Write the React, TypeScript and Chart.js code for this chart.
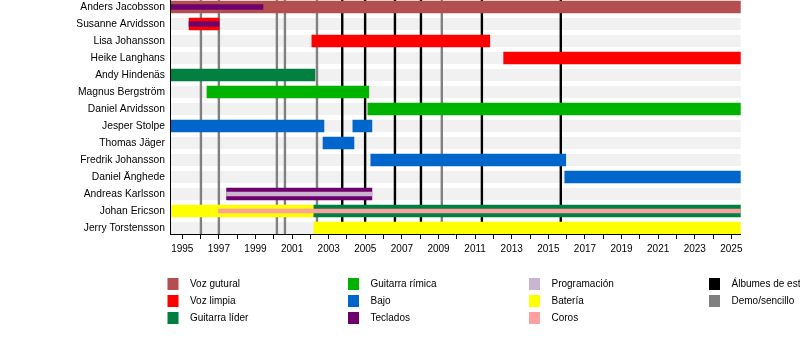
import React, { useEffect, useRef } from 'react';
import { Chart, registerables } from 'chart.js';

Chart.register(...registerables);

// ---------- data ----------
const members: string[] = [
  'Anders Jacobsson',
  'Susanne Arvidsson',
  'Lisa Johansson',
  'Heike Langhans',
  'Andy Hindenäs',
  'Magnus Bergström',
  'Daniel Arvidsson',
  'Jesper Stolpe',
  'Thomas Jäger',
  'Fredrik Johansson',
  'Daniel Änghede',
  'Andreas Karlsson',
  'Johan Ericson',
  'Jerry Torstensson',
];

const START = 1994.33;
const END = 2025.51;

type Span = [string, number, number];

const vozGutural: Span[] = [['Anders Jacobsson', START, END]];
const vozLimpia: Span[] = [
  ['Susanne Arvidsson', 1995.37, 1997.01],
  ['Lisa Johansson', 2002.08, 2011.8],
  ['Heike Langhans', 2012.56, END],
];
const guitarraLider: Span[] = [
  ['Andy Hindenäs', START, 2002.25],
  ['Johan Ericson', 2002.19, END],
];
const guitarraRitmica: Span[] = [
  ['Magnus Bergström', 1996.35, 2005.19],
  ['Daniel Arvidsson', 2005.14, END],
];
const bajo: Span[] = [
  ['Jesper Stolpe', START, 2002.74],
  ['Jesper Stolpe', 2004.32, 2005.36],
  ['Thomas Jäger', 2002.69, 2004.38],
  ['Fredrik Johansson', 2005.3, 2015.95],
  ['Daniel Änghede', 2015.9, END],
];
const teclados: Span[] = [['Andreas Karlsson', 1997.42, 2005.36]];
const tecladosSecundarios: Span[] = [
  ['Anders Jacobsson', START, 1999.41],
  ['Susanne Arvidsson', 1995.37, 1997.01],
];
const programacion: Span[] = [['Andreas Karlsson', 1997.42, 2005.36]];
const bateria: Span[] = [
  ['Johan Ericson', START, 2002.19],
  ['Jerry Torstensson', 2002.19, END],
];
const coros: Span[] = [['Johan Ericson', 1996.97, END]];

const albumes: number[] = [2003.74, 2004.99, 2006.62, 2008.04, 2011.37, 2015.68];
const demos: number[] = [1996.02, 1997.0, 2000.17, 2000.61, 2002.36, 2009.18];

const yearTicks: number[] = [
  1995, 1996, 1997, 1998, 1999, 2000, 2001, 2002, 2003, 2004, 2005, 2006, 2007,
  2008, 2009, 2010, 2011, 2012, 2013, 2014, 2015, 2016, 2017, 2018, 2019, 2020,
  2021, 2022, 2023, 2024, 2025,
];

const legendLabels: string[] = [
  'Voz gutural', 'Voz limpia', 'Guitarra líder',
  'Guitarra rímica', 'Bajo', 'Teclados',
  'Programación', 'Batería', 'Coros',
  'Álbumes de estudio', 'Demo/sencillo',
];
const legendColors: string[] = [
  '#b34f4f', '#ff0000', '#008040',
  '#00b300', '#0066cc', '#6e006e',
  '#cbb4cf', '#ffff00', '#ff9f9f',
  '#000000', '#808080',
];

// ---------- helpers ----------
const FONT = "'Liberation Sans', Arial, sans-serif";
const toPoints = (spans: Span[]) =>
  spans.map(([m, a, b]) => ({ x: [a, b], y: members.indexOf(m) }));

const bgPlugin = {
  id: 'bgBandsAndLines',
  beforeDatasetsDraw(chart: any) {
    const { ctx, chartArea, scales } = chart;
    const x = scales.x;
    const y = scales.y;
    ctx.save();
    ctx.fillStyle = '#f1f1f1';
    members.forEach((_, i) => {
      const cy = y.getPixelForValue(i);
      ctx.fillRect(chartArea.left, cy - 6, chartArea.right - chartArea.left, 12);
    });
    const drawLine = (v: number, color: string) => {
      const px = x.getPixelForValue(v);
      ctx.strokeStyle = color;
      ctx.lineWidth = 2.4;
      ctx.beginPath();
      ctx.moveTo(px, chartArea.top);
      ctx.lineTo(px, chartArea.bottom);
      ctx.stroke();
    };
    demos.forEach((v) => drawLine(v, '#808080'));
    albumes.forEach((v) => drawLine(v, '#000000'));
    ctx.restore();
  },
  afterDatasetsDraw(chart: any) {
    const { ctx, chartArea } = chart;
    ctx.save();
    ctx.strokeStyle = '#000000';
    ctx.lineWidth = 1;
    ctx.beginPath();
    ctx.moveTo(chartArea.left + 0.5, chartArea.top);
    ctx.lineTo(chartArea.left + 0.5, chartArea.bottom);
    ctx.stroke();
    ctx.restore();
  },
};

const legendPlugin = {
  id: 'customLegend',
  afterDraw(chart: any) {
    const { ctx } = chart;
    const colX = [167.5, 348, 529, 709];
    const rowTop = [278, 295, 312];
    ctx.save();
    ctx.font = `10px ${FONT}`;
    ctx.textBaseline = 'middle';
    ctx.textAlign = 'left';
    legendLabels.forEach((label, i) => {
      const c = Math.floor(i / 3);
      const r = i % 3;
      ctx.fillStyle = legendColors[i];
      ctx.fillRect(colX[c], rowTop[r], 11, 12);
      ctx.fillStyle = '#000000';
      ctx.fillText(label, colX[c] + 22.5, rowTop[r] + 6.5);
    });
    ctx.restore();
  },
};

export default function App() {
  const canvasRef = useRef<HTMLCanvasElement | null>(null);

  useEffect(() => {
    if (!canvasRef.current) return;
    const mk = (label: string, spans: Span[], color: string, thickness: number, order: number) => ({
      label,
      data: toPoints(spans),
      backgroundColor: color,
      borderWidth: 0,
      barThickness: thickness,
      grouped: false,
      order,
    });
    const chart = new Chart(canvasRef.current, {
      type: 'bar',
      data: {
        datasets: [
          mk('Voz gutural', vozGutural, legendColors[0], 12, 2),
          mk('Voz limpia', vozLimpia, legendColors[1], 12, 2),
          mk('Guitarra líder', guitarraLider, legendColors[2], 12, 2),
          mk('Guitarra rímica', guitarraRitmica, legendColors[3], 12, 2),
          mk('Bajo', bajo, legendColors[4], 12, 2),
          mk('Teclados', teclados, legendColors[5], 12, 2),
          mk('Batería', bateria, legendColors[7], 12, 2),
          mk('Teclados (secundario)', tecladosSecundarios, legendColors[5], 5, 1),
          mk('Programación', programacion, legendColors[6], 4, 1),
          mk('Coros', coros, legendColors[8], 4, 1),
        ] as any,
      },
      options: {
        animation: false,
        responsive: false,
        devicePixelRatio: 1,
        indexAxis: 'y',
        layout: { padding: { left: 0, right: 59.3, top: 0, bottom: 0 } },
        plugins: { legend: { display: false }, tooltip: { enabled: false } },
        scales: {
          x: {
            type: 'linear',
            bounds: 'data',
            offset: false,
            min: START,
            max: END,
            afterBuildTicks: (s: any) => {
              s.ticks = yearTicks.map((v) => ({ value: v }));
            },
            afterFit: (s: any) => {
              s.height = 120;
            },
            ticks: {
              autoSkip: false,
              maxRotation: 0,
              color: '#000000',
              padding: 4,
              font: { family: FONT, size: 10 },
              callback: (v: any) => (Number(v) % 2 === 1 ? String(v) : ''),
            },
            grid: { drawOnChartArea: false, drawTicks: true, tickLength: 5, color: '#000000', offset: false },
            border: { display: true, color: '#000000', width: 1 },
          },
          y: {
            type: 'linear',
            bounds: 'data',
            offset: false,
            reverse: true,
            min: -0.412,
            max: 13.353,
            afterBuildTicks: (s: any) => {
              s.ticks = members.map((_, i) => ({ value: i }));
            },
            afterFit: (s: any) => {
              s.width = 170;
              s.paddingTop = 0;
              s.paddingBottom = 0;
            },
            ticks: {
              autoSkip: false,
              color: '#000000',
              padding: 5,
              font: { family: FONT, size: 10.3 },
              callback: (v: any) => members[Number(v)] ?? '',
            },
            grid: { display: false, drawTicks: false, offset: false },
            border: { display: true, color: '#000000', width: 1 },
          },
        },
      } as any,
      plugins: [bgPlugin, legendPlugin],
    });
    return () => chart.destroy();
  }, []);

  return (
    <div style={{ position: 'absolute', left: 0, top: 0, width: 800, height: 354, background: '#ffffff' }}>
      <canvas ref={canvasRef} width={800} height={354} style={{ display: 'block' }} />
    </div>
  );
}
